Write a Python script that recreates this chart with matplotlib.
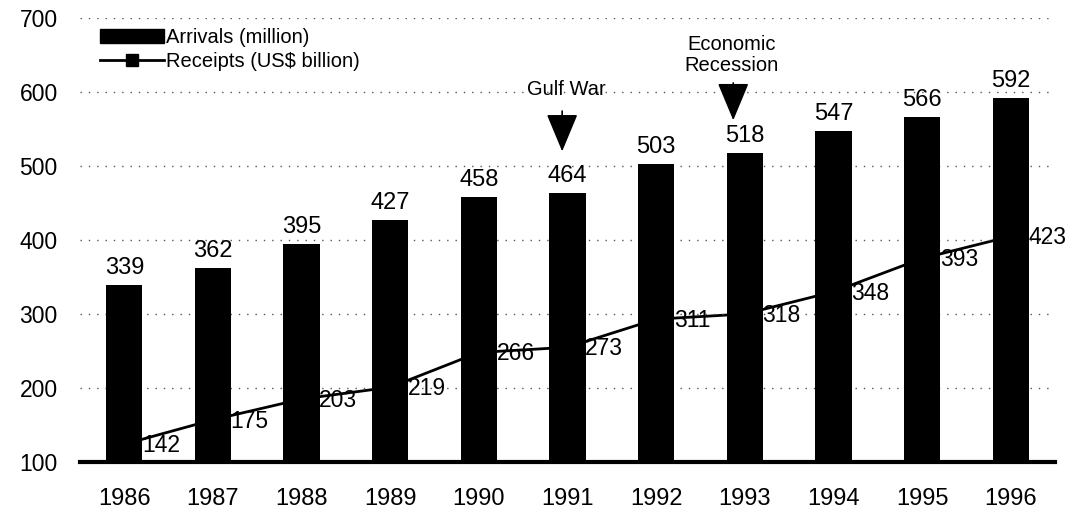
import matplotlib.pyplot as plt
from matplotlib.lines import Line2D
from matplotlib.patches import Patch

years = ["1986", "1987", "1988", "1989", "1990", "1991", "1992", "1993", "1994", "1995", "1996"]
arrivals = [339, 362, 395, 427, 458, 464, 503, 518, 547, 566, 592]
receipts = [142, 175, 203, 219, 266, 273, 311, 318, 348, 393, 423]

plt.rcParams['font.family'] = ['Liberation Sans', 'DejaVu Sans']

fig = plt.figure(figsize=(10.76, 5.29), dpi=100)
ax = fig.add_axes([0.0743, 0.1267, 0.9062, 0.8393])
ax2 = ax.twinx()
ax.set_zorder(2)
ax.patch.set_visible(False)

x = list(range(len(years)))

# receipts line sits behind the bars
ax2.plot(x, receipts, color='black', lw=2, marker='s', ms=7, zorder=1)
ax2.set_ylim(118, 718)
ax2.set_yticks([])
for s in ax2.spines.values():
    s.set_visible(False)
for i, v in enumerate(receipts):
    ax2.text(i + 0.2, v - 2, str(v), ha='left', va='center', fontsize=16.5, zorder=3)

ax.bar(x, arrivals, width=0.41, color='black', zorder=2)
for i, v in enumerate(arrivals):
    ax.text(i, v + 8, str(v), ha='center', va='bottom', fontsize=17)

ax.set_xlim(-0.5, 10.5)
ax.set_ylim(100, 700)
ax.set_yticks([100, 200, 300, 400, 500, 600, 700])
ax.set_xticks(x)
ax.set_xticklabels(years, fontsize=17)
ax.tick_params(axis='y', labelsize=16.5, length=0, pad=16)
ax.tick_params(axis='x', length=0, pad=19)
ax.grid(axis='y', linestyle=(0, (1, 5)), color='#555555', lw=1)
ax.set_axisbelow(True)
for name in ['left', 'right', 'top']:
    ax.spines[name].set_visible(False)
ax.spines['bottom'].set_linewidth(3)

# events
arrow = dict(arrowstyle='-|>,head_length=1.2,head_width=0.5',
             color='black', lw=1.2, mutation_scale=20)
ax.text(4.99, 603, "Gulf War", ha='center', va='center', fontsize=14.5)
ax.annotate("", xy=(4.94, 516), xytext=(4.94, 578), arrowprops=arrow)
ax.text(6.85, 650, "Economic\nRecession", ha='center', va='center',
        fontsize=14.5, linespacing=1.15)
ax.annotate("", xy=(6.87, 558), xytext=(6.87, 616), arrowprops=arrow)

handles = [Patch(facecolor='black', edgecolor='black', hatch='xxxx'),
           Line2D([0], [0], color='black', lw=2, marker='s', ms=8)]
ax.legend(handles, ["Arrivals (million)", "Receipts (US$ billion)"],
          loc='upper left', bbox_to_anchor=(0.01, 1.0), frameon=False,
          fontsize=14.5, handlelength=3.2, handletextpad=0.1, labelspacing=0.25,
          borderaxespad=0.1)

fig.savefig("out.png", dpi=100)
